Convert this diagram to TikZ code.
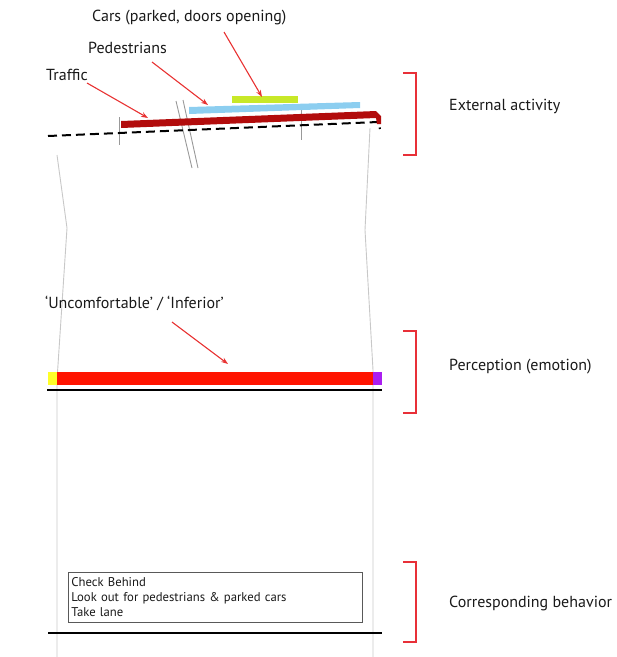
\documentclass[tikz,border=0pt]{standalone}
\usepackage{fontspec}
\setmainfont{PT Sans}
\usetikzlibrary{arrows.meta}
\definecolor{trafficred}{RGB}{178,12,12}
\definecolor{pedblue}{RGB}{140,206,240}
\definecolor{carlime}{RGB}{200,232,40}
\definecolor{bracketred}{RGB}{232,48,56}
\definecolor{arrowred}{RGB}{232,50,50}
\definecolor{edgegray}{RGB}{200,200,200}
\definecolor{feelred}{RGB}{255,20,0}
\definecolor{feelyellow}{RGB}{255,255,40}
\definecolor{feelpurple}{RGB}{170,30,240}
\tikzset{
  lbl/.style={inner sep=0pt, anchor=west, font=\fontsize{16}{18}\selectfont, text=black!90},
  pointer/.style={draw=arrowred, line width=1.1pt, -{Stealth[length=7pt,width=5pt]}},
  bracket/.style={draw=bracketred, line width=1.4pt},
  edge/.style={draw=edgegray, line width=0.9pt},
  tick/.style={draw=gray!80, line width=0.9pt},
  baseline/.style={draw=black, line width=1.1pt},
}
\begin{document}
\begin{tikzpicture}[x=1pt, y=-1pt]
\useasboundingbox (0,0) rectangle (617,657);

% road edges
\draw[edge] (57,155) -- (67,228) -- (57,380) -- (57,657);
\draw[edge] (370,128) -- (365,230) -- (373,370) -- (373,657);

% ticks across the street
\draw[tick] (119,117) -- (119,145);
\draw[tick] (301,110) -- (301,140);
\draw[tick] (176,101) -- (192,168);
\draw[tick] (183,100) -- (198,168);

% kerb line
\draw[black, line width=2pt, dash pattern=on 9pt off 5pt] (48,136) -- (378,122) -- (380,129);

% traffic lane
\fill[trafficred] (121,121) -- (376,111) -- (381,116) -- (381,124) -- (377,124) -- (376,118) -- (121,128) -- cycle;
% pedestrians
\fill[pedblue] (189,107) -- (360,102) -- (360,108) -- (189,114) -- cycle;
% parked cars
\fill[carlime] (232,96) rectangle (298,103);

% labels of external activity
\node[lbl] (cars) at (92,18) {Cars (parked, doors opening)};
\node[lbl] (peds) at (88,48) {Pedestrians};
\node[lbl] (traf) at (46,75) {Traffic};
\coordinate (carsA) at (224,32);
\coordinate (carsB) at (262,97);
\coordinate (pedsA) at (152,62);
\coordinate (pedsB) at (208,105);
\coordinate (trafA) at (87,83);
\coordinate (trafB) at (148,118);
\draw[pointer] (carsA) -- (carsB);
\draw[pointer] (pedsA) -- (pedsB);
\draw[pointer] (trafA) -- (trafB);

% perception bar
\fill[feelyellow] (48,372) rectangle (57,385);
\fill[feelred] (57,372) rectangle (373,385);
\fill[feelpurple] (373,372) rectangle (382,385);
\draw[baseline] (47,390) -- (382,390);
\node[lbl] (feel) at (45,303) {‘Uncomfortable’ / ‘Inferior’};
\coordinate (feelA) at (172,322);
\coordinate (feelB) at (228,364);
\draw[pointer] (feelA) -- (feelB);

% behaviour box
\node[draw=gray!70!black, line width=0.7pt, anchor=north west, minimum width=294pt, minimum height=50pt,
      inner xsep=3pt, inner ysep=2pt, align=left, text width=288pt, font=\fontsize{12.7}{15}\selectfont, text=black!90]
  (todo) at (68,572) {Check Behind\\Look out for pedestrians \& parked cars\\Take lane};
\draw[baseline] (48,633) -- (382,633);

% brackets and layer names
\draw[bracket] (403,73) -- (416,73) -- (416,155) -- (403,155);
\draw[bracket] (403,331) -- (416,331) -- (416,413) -- (403,413);
\draw[bracket] (403,562) -- (416,562) -- (416,642) -- (403,642);
\node[lbl] (ext) at (449,106) {External activity};
\node[lbl] (per) at (449,367) {Perception (emotion)};
\node[lbl] (beh) at (449,603) {Corresponding behavior};
\end{tikzpicture}
\end{document}
